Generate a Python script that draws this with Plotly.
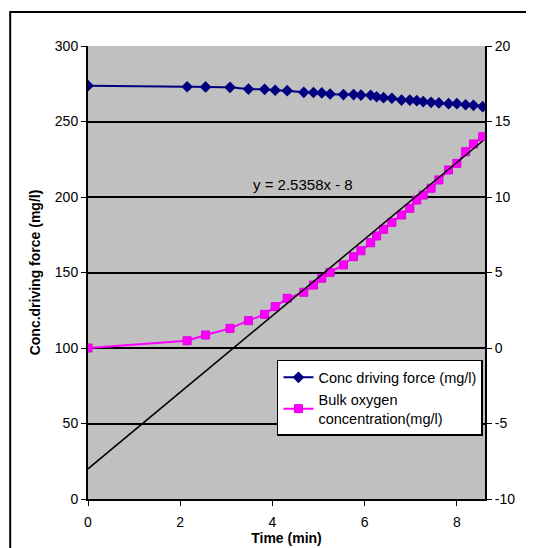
import plotly.graph_objects as go

time_min = [0, 2.15, 2.55, 3.08, 3.48, 3.83, 4.06, 4.32, 4.68, 4.89, 5.07, 5.25, 5.54, 5.76, 5.92,
            6.13, 6.26, 6.41, 6.59, 6.80, 6.98, 7.13, 7.27, 7.44, 7.61, 7.82, 8.0, 8.19, 8.36, 8.56]
conc_driving = [273.7, 273.0, 272.9, 272.6, 271.5, 271.3, 270.7, 270.4, 269.3, 269.2, 268.9, 268.2,
                267.8, 267.8, 267.5, 267.4, 266.4, 265.8, 265.4, 264.2, 264.2, 263.8, 263.1, 262.7,
                262.3, 261.8, 261.8, 261.1, 260.7, 259.8]
bulk_oxygen = [0, 0.48, 0.86, 1.30, 1.81, 2.23, 2.74, 3.29, 3.69, 4.17, 4.62, 5.01, 5.50, 6.05, 6.44,
               6.97, 7.42, 7.86, 8.32, 8.81, 9.25, 9.80, 10.13, 10.58, 11.13, 11.79, 12.23, 13.0, 13.51, 13.99]
slope, intercept = 2.5358, -8
trend_x = [time_min[0], time_min[-1]]
trend_y = [slope * x + intercept for x in trend_x]

left_ticks = [0, 50, 100, 150, 200, 250, 300]
right_ticks = [-10, -5, 0, 5, 10, 15, 20]
right_tick_labels = ["-10", "-5", "0", "5", "10", "15", "20"]
x_ticks = [0, 2, 4, 6, 8]

FONT = "Liberation Sans, Arial, sans-serif"

fig = go.Figure()
fig.add_trace(go.Scatter(
    x=time_min, y=conc_driving, name="Conc driving force (mg/l)",
    mode="lines+markers", line=dict(color="#000080", width=2, shape="spline", smoothing=0.6),
    marker=dict(symbol="diamond", size=9, color="#000080"), yaxis="y"))
fig.add_trace(go.Scatter(
    x=time_min, y=bulk_oxygen, name="Bulk oxygen<br>concentration(mg/l)",
    mode="lines+markers", line=dict(color="#FF00FF", width=2),
    marker=dict(symbol="square", size=8, color="#FF00FF", line=dict(color="#E000E0", width=1)),
    yaxis="y2"))
fig.add_trace(go.Scatter(
    x=trend_x, y=trend_y, name="Linear (Bulk oxygen concentration(mg/l))",
    mode="lines", line=dict(color="black", width=1.5), yaxis="y2", showlegend=False))

fig.add_annotation(x=4.66, y=208, xref="x", yref="y", text="y = 2.5358x - 8",
                   showarrow=False, font=dict(family=FONT, size=15, color="black"))

# outer chart border
fig.add_shape(type="rect", xref="paper", yref="paper", x0=-0.196, y0=-0.3, x1=1.3, y1=1.075,
              line=dict(color="black", width=2), fillcolor="rgba(0,0,0,0)", layer="below")

fig.update_layout(
    width=526, height=540,
    margin=dict(l=80, r=49, t=38, b=49, autoexpand=False),
    paper_bgcolor="white", plot_bgcolor="#C0C0C0",
    font=dict(family=FONT, size=14, color="black"),
    showlegend=True,
    legend=dict(x=0.476, y=0.307, xanchor="left", yanchor="top", bgcolor="white",
                bordercolor="black", borderwidth=1.5, font=dict(family=FONT, size=14.5),
                tracegroupgap=8, itemwidth=30),
    xaxis=dict(range=[0, 8.61], tickvals=x_ticks, ticks="outside", ticklen=5, tickcolor="black",
               showline=True, linecolor="black", linewidth=2, showgrid=False, zeroline=False,
               tickfont=dict(size=14), ticklabelstandoff=4, automargin=False,
               title=dict(text="<b>Time (min)</b>", font=dict(family=FONT, size=14), standoff=4)),
    yaxis=dict(range=[0, 300], tickvals=left_ticks, ticks="outside", ticklen=5, tickcolor="black",
               showline=True, linecolor="black", linewidth=2, showgrid=True, gridcolor="black",
               gridwidth=1.5, zeroline=False, tickfont=dict(size=14), automargin=False,
               title=dict(text="<b>Conc.driving force (mg/l)</b>", font=dict(family=FONT, size=14),
                          standoff=11)),
    yaxis2=dict(range=[-10, 20], tickvals=right_ticks, ticktext=right_tick_labels,
                overlaying="y", side="right", tickfont=dict(size=14), automargin=False,
                ticks="outside", ticklen=5, tickcolor="black", showline=True, linecolor="black",
                linewidth=2, showgrid=False, zeroline=False),
)

fig.write_html("out.html")
